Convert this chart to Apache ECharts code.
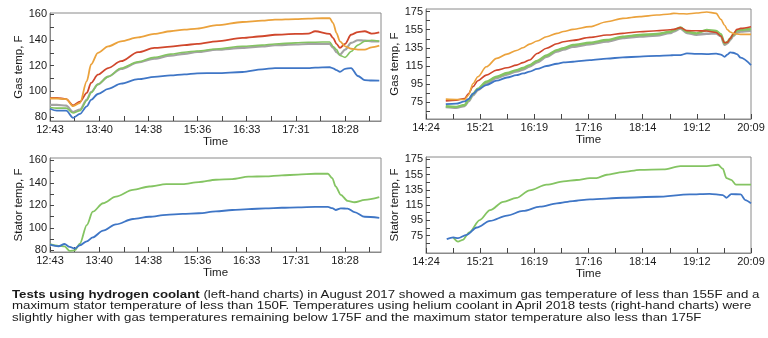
<!DOCTYPE html>
<html>
<head>
<meta charset="utf-8">
<script src="https://cdn.jsdelivr.net/npm/echarts@6/dist/echarts.min.js"></script>
<style>
html,body{margin:0;padding:0;background:#fff;}
#chart{position:absolute;left:0;top:0;width:768px;height:338px;}
#caption{position:absolute;left:12px;top:287.5px;font-family:"Liberation Sans",Arial,sans-serif;font-size:11.7px;line-height:11.5px;color:#1a1a1a;white-space:nowrap;transform-origin:0 0;transform:scaleX(1.135);}
#caption b{font-weight:bold;}
</style>
</head>
<body>
<div id="chart"></div>
<div id="caption"><b>Tests using hydrogen coolant</b> (left-hand charts) in August 2017 showed a maximum gas temperature of less than 155F and a<br>maximum stator temperature of less than 150F. Temperatures using helium coolant in April 2018 tests (right-hand charts) were<br>slightly higher with gas temperatures remaining below 175F and the maximum stator temperature also less than 175F</div>
<script>
// ---- Tick labels ----
const leftTimeLabels = ['12:43','13:40','14:38','15:36','16:33','17:31','18:28'];
const rightTimeLabels = ['14:24','15:21','16:19','17:16','18:14','19:12','20:09'];
const leftYLabels = [80,100,120,140,160];
const rightYLabels = [75,95,115,135,155,175];

// ---- Top-left: gas temp, hydrogen (minutes after 12:43) ----
const tlTime  = [0,8,19,27,35,43,48,56,68,83,103,122,141,157,172,195,225,248,263,287,302,310,327,331,335,339,345,352,360,368,376,385];
const tlOrange= [94.5,94.5,94,88.5,91,108,121,130,135,139,142,144.7,146.8,148,148.8,151.5,154,155,155.8,156.3,156.6,156.8,157,153.2,145.4,139,135.1,133.2,132.5,132.5,134.3,135.6];
const tlRed   = [95,95,94,89.2,92,98.8,106.6,113,118.2,123.5,130.5,133.8,134.8,136,137,139,141.6,142.9,144.1,144.7,144.9,146.8,144.7,141.6,137,133.8,137,144.1,146.2,146.8,145,146];
const tlGrey  = [89.5,89.5,89,84,85.8,93.6,99.5,105.5,111.5,117.5,122.5,125.5,127.8,129.2,130.7,132.5,133.8,135,135.9,136.5,136.9,136.9,136.9,134,130.5,128.6,132.5,137.7,139.8,139.5,139,139];
const tlGreen = [87.5,87,87,83.2,85,93,99,105.5,111.5,118,123,126.5,129,130.5,131.5,133,135.1,136,136.9,137.8,138.2,138.3,138.5,135,132.5,128,126.5,131,136,139,139.8,139];
const tlBlue  = [86.5,85,85,79.5,82.5,88.4,93.5,98,102,106,109.5,111.3,112.5,113.3,114.1,114.3,115.1,117.2,118.2,118.2,118.2,118.5,118.8,118,116.5,115.3,117.5,118.2,112,108.8,108.5,108.4];

// ---- Bottom-left: stator temp, hydrogen ----
const blTime  = [0,10,17,23,29,35,43,50,62,77,97,116,136,155,174,194,213,232,252,271,290,310,325,330,334,340,348,356,368,385];
const blGreen = [85.5,84,83.5,79.5,80,86,102.4,114.3,121.8,127.7,133.7,136.7,138.8,138.8,140.6,142.7,143.3,145.4,145.7,146.6,147.2,148,148,144.2,136.7,129.3,123.9,122.7,124.8,127.2];
const blBlue  = [85.1,83.6,85.6,83,81.5,84.5,88,91.5,97.5,103,107.8,109.8,111.5,112.3,112.9,114.5,115.8,116.5,117.3,117.8,118.2,118.5,118.5,117.5,115.8,117.3,117,114,109.8,108.9];

// ---- Top-right: gas temp, helium (minutes after 14:24) ----
const trTime  = [21,32,41,45,50,55,64,75,86,96,103,110,118,128,139,146,156,174,192,209,227,245,259,263,270,277,287,298,308,313,317,320,323,326,330,334,345];
const trOrange= [78,77.6,77.6,82.4,95.4,102.8,113.9,123.2,128,132,135,139,142.5,147.3,151,153,155.4,158.4,163.9,167.6,169.5,171.3,172.5,173.2,172.8,172.5,173.5,174.7,173.2,166.5,160,155,152.5,151,150.2,149.9,149.9];
const trRed   = [76.1,76.9,78.7,84,92,98.5,104.7,110.2,112.8,115.8,118.5,121.5,128.7,134.5,139.5,141.7,143.2,146.5,149.1,151,152.8,153.9,155,155.4,157.3,154,153.8,153.6,152,148,140.6,141,145.4,150,155.4,156.5,158.4];
const trGreen = [70.2,69.5,71.5,76.9,84,89.5,97.3,103,107,110.2,112.5,115.8,120.5,126.5,132.4,134.5,138,140.6,143.6,147.3,149.1,150.2,152.8,154.5,157.6,152.8,151,154.7,153.6,150,139.9,141.5,145.4,149.5,153.9,155,155.8];
const trGrey  = [69.4,68.5,70.5,75.5,82.5,88,95.5,101.5,105.5,108.7,111,114.3,119,125,131,133,136.3,139,142,145.8,147.6,148.7,151.3,153,156.5,151.5,149.5,150.5,151,148,138.5,140,144,148,151.5,153,153.9];
const trBlue  = [72.4,73,75.5,78,84,88.5,93.6,98.5,102,104.7,106.5,108.5,111.5,114.8,117.3,118.7,119.5,121.3,123,124.3,125.2,126.1,126.6,126.8,126.9,128.7,128.3,128,128.5,127.5,125,127.5,129.9,129.5,128,124,115.8];

// ---- Bottom-right: stator temp, helium ----
const brGreenTime = [29,34,39,46,57,68,82,96,110,128,146,160,174,181,192,209,227,252,270,298,310,315,319,324,329,345];
const brGreen     = [72.2,67,69.2,79.2,95.2,108.3,119.1,124.3,134.3,141.7,146,147.8,150.4,150.4,154.7,158.2,161.2,161.7,166,166,167.8,162.6,150.4,148,141.7,141.7];
const brBlueTime  = [22,29,34,43,54,68,86,103,121,139,156,174,209,245,280,301,315,319,324,334,339,345];
const brBlue      = [70.3,72.4,71.6,75.9,85.5,94.2,101.1,107.2,112.8,117.1,120.2,122.4,124.5,125.8,128.9,129.7,128,124.5,129.3,128.9,121.5,117.1];

const C = {orange:'#EBA23C', red:'#D0472C', grey:'#A3A3A3', green:'#84C462', blue:'#3F76C6'};
const FONT = '"Liberation Sans", Arial, sans-serif';
const LABEL_STEP = 57.5;

function pairs(xs, ys){ return xs.map((x,i)=>[x, ys[i]]); }
function range(a, b, s){ const r=[]; for(let v=a; v<=b+1e-9; v+=s) r.push(+v.toFixed(3)); return r; }

function xAxis(gi, max, labels){
  return {
    type:'value', gridIndex:gi, min:0, max:max,
    axisLine:{show:true, lineStyle:{color:'#8a8a8a', width:1}},
    axisTick:{show:true, inside:true, length:5, lineStyle:{color:'#444'}, customValues: range(0, max, LABEL_STEP/2)},
    axisLabel:{customValues: labels.map((_,i)=>i*LABEL_STEP), formatter:(v)=>labels[Math.round(v/LABEL_STEP)] || '',
      margin:3, fontSize:11, color:'#1a1a1a', fontFamily:FONT},
    splitLine:{show:false},
    name:'Time', nameLocation:'middle', nameGap:15,
    nameTextStyle:{fontSize:11.5, color:'#1a1a1a', fontFamily:FONT}
  };
}
function yAxis(gi, min, max, labels, name){
  const step = labels[1]-labels[0];
  return {
    type:'value', gridIndex:gi, min:min, max:max,
    axisLine:{show:true, lineStyle:{color:'#8a8a8a', width:1}},
    axisTick:{show:true, inside:true, length:4, lineStyle:{color:'#444'}, customValues: range(labels[0]-step/2 >= min ? labels[0]-step/2 : labels[0], labels[labels.length-1], step/2)},
    axisLabel:{customValues: labels, margin:3, fontSize:11, color:'#1a1a1a', fontFamily:FONT},
    splitLine:{show:false},
    name:name, nameLocation:'middle', nameGap:21,
    nameTextStyle:{fontSize:11.5, color:'#1a1a1a', fontFamily:FONT}
  };
}
function line(gi, data, color, w){
  return {type:'line', xAxisIndex:gi, yAxisIndex:gi, data:data, showSymbol:false, symbol:'none',
    smooth:0.3, smoothMonotone:'x', lineStyle:{color:color, width:w||1.8}, itemStyle:{color:color}, silent:true, animation:false};
}

const grid = (l,t,w,h)=>({left:l, top:t, width:w, height:h, show:true, borderColor:'#8a8a8a', borderWidth:1, containLabel:false});

const option = {
  animation:false,
  grid:[ grid(50,13,331,108), grid(426,9,325,110), grid(50,158,331,94), grid(426,157,325,96) ],
  xAxis:[ xAxis(0,387,leftTimeLabels), xAxis(1,345,rightTimeLabels), xAxis(2,387,leftTimeLabels), xAxis(3,345,rightTimeLabels) ],
  yAxis:[ yAxis(0,77,161,leftYLabels,'Gas temp, F'), yAxis(1,56,178,rightYLabels,'Gas temp, F'),
          yAxis(2,78.5,162,leftYLabels,'Stator temp, F'), yAxis(3,52,178,rightYLabels,'Stator temp, F') ],
  series:[
    line(0, pairs(tlTime,tlGrey), C.grey, 2.2),
    line(0, pairs(tlTime,tlGreen), C.green, 1.6),
    line(0, pairs(tlTime,tlBlue), C.blue, 1.8),
    line(0, pairs(tlTime,tlRed), C.red, 1.8),
    line(0, pairs(tlTime,tlOrange), C.orange, 1.8),
    line(1, pairs(trTime,trGrey), C.grey, 2.6),
    line(1, pairs(trTime,trGreen), C.green, 2.4),
    line(1, pairs(trTime,trBlue), C.blue, 1.8),
    line(1, pairs(trTime,trRed), C.red, 1.6),
    line(1, pairs(trTime,trOrange), C.orange, 1.6),
    line(2, pairs(blTime,blGreen), C.green, 1.8),
    line(2, pairs(blTime,blBlue), C.blue, 1.8),
    line(3, pairs(brGreenTime,brGreen), C.green, 1.8),
    line(3, pairs(brBlueTime,brBlue), C.blue, 1.8)
  ]
};
const chart = echarts.init(document.getElementById('chart'), null, {renderer:'canvas'});
chart.setOption(option);
</script>
</body>
</html>
